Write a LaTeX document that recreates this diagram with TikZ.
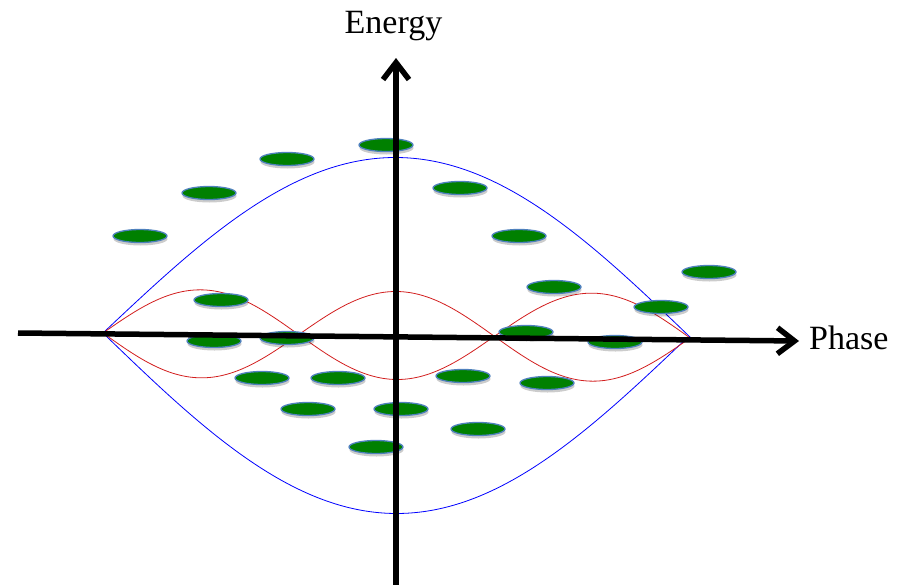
\documentclass[tikz,border=0pt]{standalone}
\usepackage{fontspec}
\setmainfont{Liberation Serif}
\usetikzlibrary{arrows.meta,shapes.geometric,shadows}
\definecolor{grainfill}{RGB}{0,128,0}
\definecolor{grainedge}{RGB}{79,129,189}
\definecolor{modered}{RGB}{210,30,30}
\begin{document}
\begin{tikzpicture}[x=1pt,y=-1pt,
    grain/.style={ellipse,fill=grainfill,draw=grainedge,line width=1.3pt,
        minimum width=54pt,minimum height=13pt,inner sep=0pt,
        drop shadow={shadow xshift=0.5pt,shadow yshift=-3pt,opacity=0.2,fill=black}},
    axis/.style={line width=5.5pt,-{Straight Barb[length=17pt,width=26pt,line width=5.5pt]}}]
    \useasboundingbox (0,0) rectangle (899,584);

    \draw[blue,line width=0.8pt] plot[domain=103:691,smooth,samples=120] (\x,{333+(\x-103)*0.0085-178*sin((\x-103)/588*180)});
    \draw[blue,line width=0.8pt] plot[domain=103:687,smooth,samples=120] (\x,{333+(\x-103)*0.0085+178*sin((\x-103)/584*180)});

    \draw[modered,line width=0.8pt] plot[domain=103:690,smooth,samples=200] (\x,{333+(\x-103)*0.0085-44*sin((\x-103)/195.7*180)});
    \draw[modered,line width=0.8pt] plot[domain=103:690,smooth,samples=200] (\x,{333+(\x-103)*0.0085+44*sin((\x-103)/195.7*180)});

    \node[grain] (g1) at (386,145) {};
    \node[grain] (g2) at (287,159) {};
    \node[grain] (g3) at (209,193) {};
    \node[grain] (g4) at (140,236) {};
    \node[grain] (g5) at (460,188) {};
    \node[grain] (g6) at (519,236) {};
    \node[grain] (g7) at (554,287) {};
    \node[grain] (g8) at (709,272) {};
    \node[grain] (g9) at (661,307) {};
    \node[grain] (g10) at (221,300) {};
    \node[grain] (g11) at (214,341) {};
    \node[grain] (g12) at (287,338) {};
    \node[grain] (g13) at (526,332) {};
    \node[grain] (g14) at (615,342) {};
    \node[grain] (g15) at (262,378) {};
    \node[grain] (g16) at (338,378) {};
    \node[grain] (g17) at (463,376) {};
    \node[grain] (g18) at (547,383) {};
    \node[grain] (g19) at (308,409) {};
    \node[grain] (g20) at (401,409) {};
    \node[grain] (g21) at (478,429) {};
    \node[grain] (g22) at (376,447) {};

    \coordinate (xl) at (18,333);
    \coordinate (xr) at (799,341);
    \coordinate (yb) at (396,590);
    \coordinate (yt) at (396,58);
    \draw[axis] (xl) -- (xr);
    \draw[axis] (yb) -- (yt);

    \node[anchor=base,font=\fontsize{34}{40}\selectfont,inner sep=0pt] (energy) at (393.5,33) {Energy};
    \node[anchor=base west,font=\fontsize{34}{40}\selectfont,inner sep=0pt] (phase) at (809,349) {Phase};

\end{tikzpicture}
\end{document}
